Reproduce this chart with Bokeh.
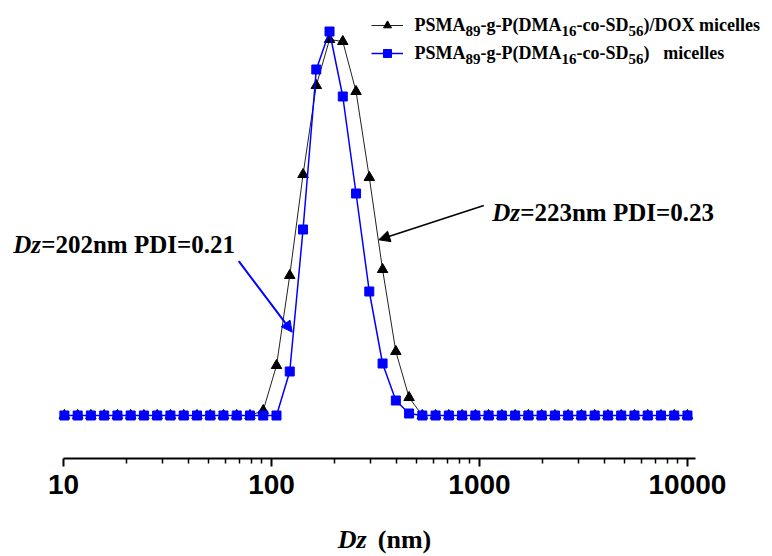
from bokeh.plotting import figure
from bokeh.layouts import column
from bokeh.models import (Range1d, Label, Arrow, NormalHead, Legend, LegendItem,
                          FixedTicker)
from bokeh.embed import file_html
from bokeh.resources import INLINE

# ---------------- data ----------------
sizes_nm = [10.1, 11.7, 13.54, 15.69, 18.17, 21.04, 24.36, 28.21, 32.67, 37.84,
            43.82, 50.75, 58.77, 68.06, 78.82, 91.28, 105.7, 122.4, 141.8, 164.2,
            190.1, 220.2, 255.0, 295.3, 342.0, 396.1, 458.7, 531.2, 615.1, 712.4,
            825.0, 955.4, 1106, 1281, 1484, 1718, 1990, 2305, 2669, 3091,
            3580, 4145, 4801, 5560, 6439, 7456, 8635, 10000]

dox_intensity = [0, 0, 0, 0, 0, 0, 0, 0, 0, 0,
                 0, 0, 0, 0, 0, 0.25, 2.5, 7.0, 12.05, 16.5,
                 18.8, 18.7, 16.2, 11.9, 7.3, 3.2, 0.9, 0, 0, 0,
                 0, 0, 0, 0, 0, 0, 0, 0, 0, 0,
                 0, 0, 0, 0, 0, 0, 0, 0]

blank_intensity = [0, 0, 0, 0, 0, 0, 0, 0, 0, 0,
                   0, 0, 0, 0, 0, 0, 0, 2.2, 9.3, 17.3,
                   19.2, 15.95, 11.1, 6.2, 2.6, 0.75, 0.1, 0, 0, 0,
                   0, 0, 0, 0, 0, 0, 0, 0, 0, 0,
                   0, 0, 0, 0, 0, 0, 0, 0]

major_ticks = [10, 100, 1000, 10000]
tick_labels = ["10", "100", "1000", "10000"]
minor_ticks = [m * d for d in (10, 100, 1000) for m in range(2, 10)]

SERIF = "Liberation Serif"
SANS = "Liberation Sans"

# ---------------- main figure ----------------
p = figure(width=772, height=510, x_axis_type="log",
           x_range=Range1d(4.979, 25630), y_range=Range1d(-2.15, 20.75),
           output_backend="svg", toolbar_location=None, y_axis_location=None,
           min_border_left=0, min_border_right=0, min_border_top=0,
           min_border_bottom=52)
p.xgrid.visible = False
p.ygrid.visible = False
p.outline_line_color = None

ax = p.xaxis[0]
ax.bounds = (10, 10930)
ax.ticker = FixedTicker(ticks=major_ticks, minor_ticks=minor_ticks)
ax.major_label_overrides = dict(zip(major_ticks, tick_labels))
ax.major_label_text_font = SANS
ax.major_label_text_font_style = "bold"
ax.major_label_text_font_size = "28px"
ax.major_label_text_color = "black"
ax.major_label_standoff = 8
ax.axis_line_width = 2
ax.axis_line_color = "black"
ax.major_tick_line_width = 2
ax.minor_tick_line_width = 1.5
ax.major_tick_out = 8
ax.major_tick_in = 0
ax.minor_tick_out = 5
ax.minor_tick_in = 0
ax.axis_label = None

# ---------------- series ----------------
bl = p.line(sizes_nm, dox_intensity, line_color="#222222", line_width=1)
bs = p.scatter(sizes_nm, dox_intensity, marker="triangle", size=10.5,
               fill_color="black", line_color="black")
ul = p.line(sizes_nm, blank_intensity, line_color="#0000ff", line_width=1.5)
us = p.scatter(sizes_nm, blank_intensity, marker="square", size=9,
               fill_color="#0000ff", line_color="#0000ff")

legend = Legend(items=[LegendItem(label=" ", renderers=[bl, bs]),
                       LegendItem(label=" ", renderers=[ul, us])],
                location=(371.3, 395), glyph_width=32, glyph_height=20,
                label_height=20, label_width=0, label_standoff=0, spacing=8,
                padding=0, margin=0, border_line_color=None,
                background_fill_alpha=0, label_text_font_size="6px")
p.add_layout(legend, "center")

# ---------------- legend texts ----------------
def txt_label(fig, x, y, text, size, style="bold", **kw):
    # alphabetic baseline; Bokeh draws it ~0.35em low, so lift accordingly
    fig.add_layout(Label(x=x, y=y, text=text, text_font=SERIF,
                         text_font_style=style, text_font_size=f"{size}px",
                         text_baseline="alphabetic", text_align="left",
                         text_color="black", **kw))

def legend_row(y, tail):
    segs = [("PSMA", 0.0, False), ("89", 51.0, True), ("-g-P(DMA", 66.0, False),
            ("16", 147.0, True), ("-co-SD", 162.0, False), ("56", 214.0, True)] + tail
    for txt, dx, sub in segs:
        size = 15 if sub else 18
        yy = y - (5.3 if sub else 0) + 0.35 * size
        txt_label(p, 414 + dx, yy, txt, size, x_units="screen", y_units="screen")

legend_row(427.3, [(")/DOX micelles", 229.0, False)])
legend_row(399.6, [(")", 229.0, False), ("micelles", 248.7, False)])

# ---------------- annotations ----------------
def dz_label(x, y, rest):
    txt_label(p, x, y, "Dz", 25, style="bold italic")
    txt_label(p, x, y, rest, 25, x_offset=28)

dz_label(5.732, 8.565, "=202nm PDI=0.21")
dz_label(1151, 10.15, "=223nm PDI=0.23")

p.add_layout(Arrow(end=NormalHead(size=11, fill_color="#0000ff", line_color="#0000ff"),
                   x_start=69.6, y_start=7.715, x_end=125.8, y_end=4.165,
                   line_color="#0000ff", line_width=2))
p.add_layout(Arrow(end=NormalHead(size=11, fill_color="black", line_color="black"),
                   x_start=1049, y_start=10.5, x_end=328.1, y_end=8.785,
                   line_color="black", line_width=1.5))

# ---------------- axis title (separate strip) ----------------
t = figure(width=772, height=44, x_range=Range1d(0, 772), y_range=Range1d(0, 44),
           output_backend="svg", toolbar_location=None, x_axis_location=None,
           y_axis_location=None, min_border=0)
t.xgrid.visible = False
t.ygrid.visible = False
t.outline_line_color = None
txt_label(t, 337.3, 15, "Dz", 26, style="bold italic")
txt_label(t, 377.3, 15, "(nm)", 26)

layout = column(p, t, spacing=0)
open("out.html", "w").write(file_html(layout, INLINE))
